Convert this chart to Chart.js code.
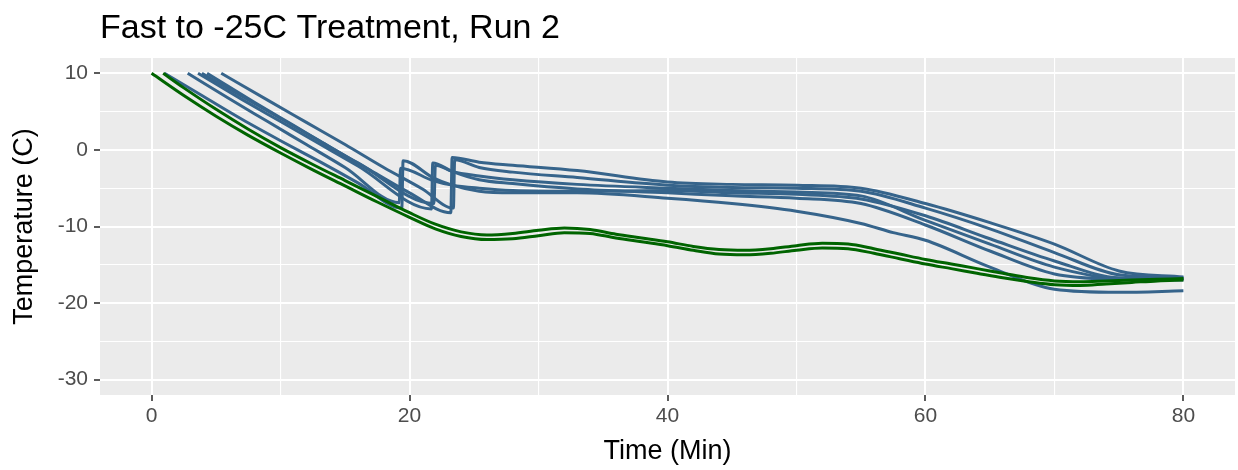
<!DOCTYPE html>
<html>
<head>
<meta charset="utf-8">
<script src="https://cdn.jsdelivr.net/npm/chart.js@4.4.1/dist/chart.umd.min.js"></script>
<style>
  html, body { margin: 0; padding: 0; background: #fff; }
  #wrap { width: 1238px; height: 470px; position: relative; }
</style>
</head>
<body>
<div id="wrap"><canvas id="chart"></canvas></div>
<script>
// probe traces, [time (min), temperature (C)]
const green1 = [[0.9, 10], [2.5, 8.1], [5, 5.3], [7.5, 2.7], [10, 0.3], [12.5, -1.9], [15, -4.0], [17.5, -6.1], [20, -8.2], [22, -9.7], [24, -10.7], [26, -11.1], [28, -10.9], [30, -10.5], [32, -10.2], [34, -10.4], [36, -11.0], [38, -11.5], [40, -12.0], [42, -12.6], [44, -13.0], [46, -13.1], [48, -12.9], [50, -12.5], [52, -12.2], [54, -12.3], [56, -12.9], [58, -13.6], [60, -14.3], [62, -14.9], [64, -15.5], [66, -16.1], [68, -16.7], [70, -17.1], [72, -17.2], [74, -17.1], [76, -17.0], [78, -16.9], [80, -16.8]];
const green2 = [[0, 10], [2.5, 7.1], [5, 4.4], [7.5, 1.9], [10, -0.4], [12.5, -2.6], [15, -4.7], [17.5, -6.8], [20, -8.8], [22, -10.3], [24, -11.3], [26, -11.7], [28, -11.6], [30, -11.2], [32, -10.8], [34, -10.9], [36, -11.5], [38, -12.0], [40, -12.5], [42, -13.1], [44, -13.6], [46, -13.7], [48, -13.5], [50, -13.1], [52, -12.8], [54, -12.9], [56, -13.5], [58, -14.2], [60, -14.9], [62, -15.5], [64, -16.1], [66, -16.7], [68, -17.2], [70, -17.6], [72, -17.7], [74, -17.5], [76, -17.3], [78, -17.1], [80, -17.0]];

const blue1 = [[1.0, 10], [4, 7.0], [7, 4.0], [10, 1.2], [13, -1.5], [16, -4.3], [19.4, -7.6], [19.5, -1.4], [21.8, -3.6], [23.3, -4.6], [25.4, -5.4], [28, -5.6], [33, -5.6], [40, -6.3], [45, -7.0], [50, -8.0], [55, -9.6], [57.5, -10.8], [60, -11.8], [65, -15.3], [70, -18.2], [75, -18.6], [80, -18.4]];
const blue2 = [[2.8, 10], [6, 6.7], [9, 3.7], [12, 0.7], [15, -2.3], [19.2, -6.9], [19.3, -2.4], [21.8, -4.0], [23.3, -4.6], [25.4, -5.0], [28, -5.3], [33, -5.4], [40, -5.3], [45, -5.6], [50, -5.8], [55, -6.4], [60, -8.6], [65, -11.6], [70, -14.5], [75, -16.7], [80, -16.8]];
const blue3 = [[3.6, 10], [7, 6.6], [10, 3.7], [13, 0.8], [16, -2.1], [21.7, -7.7], [21.8, -1.7], [23.3, -2.8], [25.4, -3.9], [28, -4.4], [33, -5.1], [40, -5.6], [45, -6.0], [50, -6.3], [55, -7.0], [60, -9.8], [65, -13.2], [70, -16.2], [75, -16.9], [80, -17.0]];
const blue4 = [[3.9, 10], [7, 7.0], [10, 4.1], [13, 1.2], [16, -1.7], [21.9, -7.0], [22.0, -2.0], [23.3, -2.8], [25.4, -3.4], [28, -3.9], [33, -4.5], [40, -5.0], [45, -5.3], [50, -5.5], [55, -6.0], [60, -9.2], [65, -12.3], [70, -15.3], [75, -16.8], [80, -16.9]];
const blue5 = [[4.3, 10], [8, 6.2], [11, 3.2], [14, 0.2], [17, -2.7], [20, -5.6], [23.2, -8.2], [23.3, -1.0], [25.4, -1.6], [28, -2.0], [33, -2.7], [40, -4.2], [45, -4.5], [50, -4.6], [55, -5.0], [60, -7.0], [65, -9.5], [70, -12.3], [75, -15.8], [80, -16.6]];
const blue6 = [[5.4, 10], [9, 6.5], [12, 3.6], [15, 0.7], [18, -2.3], [21, -5.1], [23.4, -7.6], [23.5, -1.3], [25.4, -2.3], [28, -2.9], [33, -3.6], [40, -4.6], [45, -4.9], [50, -5.0], [55, -5.4], [60, -7.6], [65, -10.3], [70, -13.4], [75, -16.3], [80, -16.7]];

const xMajor = [0, 20, 40, 60, 80];
const xMinor = [10, 30, 50, 70];
const yMajor = [-30, -20, -10, 0, 10];
const yMinor = [-25, -15, -5, 5];

const GREEN = '#006400';
const BLUE = '#36648B';
const FONT = "'Liberation Sans', Arial, Helvetica, sans-serif";

// green first so it ends up drawn on top
const traces = [
  [green1, GREEN], [green2, GREEN],
  [blue1, BLUE], [blue2, BLUE], [blue3, BLUE], [blue4, BLUE], [blue5, BLUE], [blue6, BLUE]
];

const datasets = traces.map(([pts, color]) => ({
  data: pts.map(p => ({ x: p[0], y: p[1] })),
  borderColor: color,
  borderWidth: 3,
  pointRadius: 0,
  fill: false,
  cubicInterpolationMode: 'monotone'
}));

function tickList(major, minor) {
  return major.concat(minor).sort((a, b) => a - b).map(v => ({ value: v }));
}

function axisGrid(major) {
  return {
    color: '#ffffff',
    lineWidth: ctx => major.includes(ctx.tick.value) ? 2 : 1.1,
    drawTicks: true,
    tickLength: 6,
    tickWidth: 1.6,
    tickColor: ctx => major.includes(ctx.tick.value) ? '#333333' : 'rgba(0,0,0,0)'
  };
}

const panelBackground = {
  id: 'panelBackground',
  beforeDraw(chart) {
    const { ctx, chartArea: a } = chart;
    ctx.save();
    ctx.fillStyle = '#EBEBEB';
    ctx.fillRect(a.left, a.top, a.right - a.left, a.bottom - a.top);
    ctx.restore();
  }
};

const plotTitle = {
  id: 'plotTitle',
  afterDraw(chart) {
    const ctx = chart.ctx;
    ctx.save();
    ctx.fillStyle = '#000000';
    ctx.font = '34px ' + FONT;
    ctx.textAlign = 'left';
    ctx.textBaseline = 'alphabetic';
    ctx.fillText('Fast to -25C Treatment, Run 2', chart.chartArea.left, 38);
    ctx.restore();
  }
};

new Chart(document.getElementById('chart'), {
  type: 'line',
  data: { datasets: datasets },
  plugins: [panelBackground, plotTitle],
  options: {
    responsive: true,
    maintainAspectRatio: false,
    animation: false,
    devicePixelRatio: 1,
    layout: { padding: { top: 58, right: 3, left: 0, bottom: 0 } },
    plugins: {
      legend: { display: false },
      title: { display: false },
      tooltip: { enabled: false }
    },
    scales: {
      x: {
        type: 'linear',
        min: -4,
        max: 84,
        afterBuildTicks: s => { s.ticks = tickList(xMajor, xMinor); },
        afterFit: s => { s.height = 75; },
        border: { display: false },
        grid: axisGrid(xMajor),
        ticks: {
          autoSkip: false,
          maxRotation: 0,
          padding: 3,
          color: '#4D4D4D',
          font: { family: FONT, size: 21 },
          callback: v => xMajor.includes(v) ? String(v) : ''
        },
        title: {
          display: true,
          text: 'Time (Min)',
          color: '#000000',
          font: { family: FONT, size: 27 },
          padding: { top: 0, bottom: 2 }
        }
      },
      y: {
        type: 'linear',
        min: -32,
        max: 12,
        afterBuildTicks: s => { s.ticks = tickList(yMajor, yMinor); },
        afterFit: s => { s.width = 100; },
        border: { display: false },
        grid: axisGrid(yMajor),
        ticks: {
          autoSkip: false,
          padding: 6,
          color: '#4D4D4D',
          font: { family: FONT, size: 21 },
          callback: v => yMajor.includes(v) ? String(v) : ''
        },
        title: {
          display: true,
          text: 'Temperature (C)',
          color: '#000000',
          font: { family: FONT, size: 27 },
          padding: { top: 8, bottom: 0 }
        }
      }
    }
  }
});
</script>
</body>
</html>
